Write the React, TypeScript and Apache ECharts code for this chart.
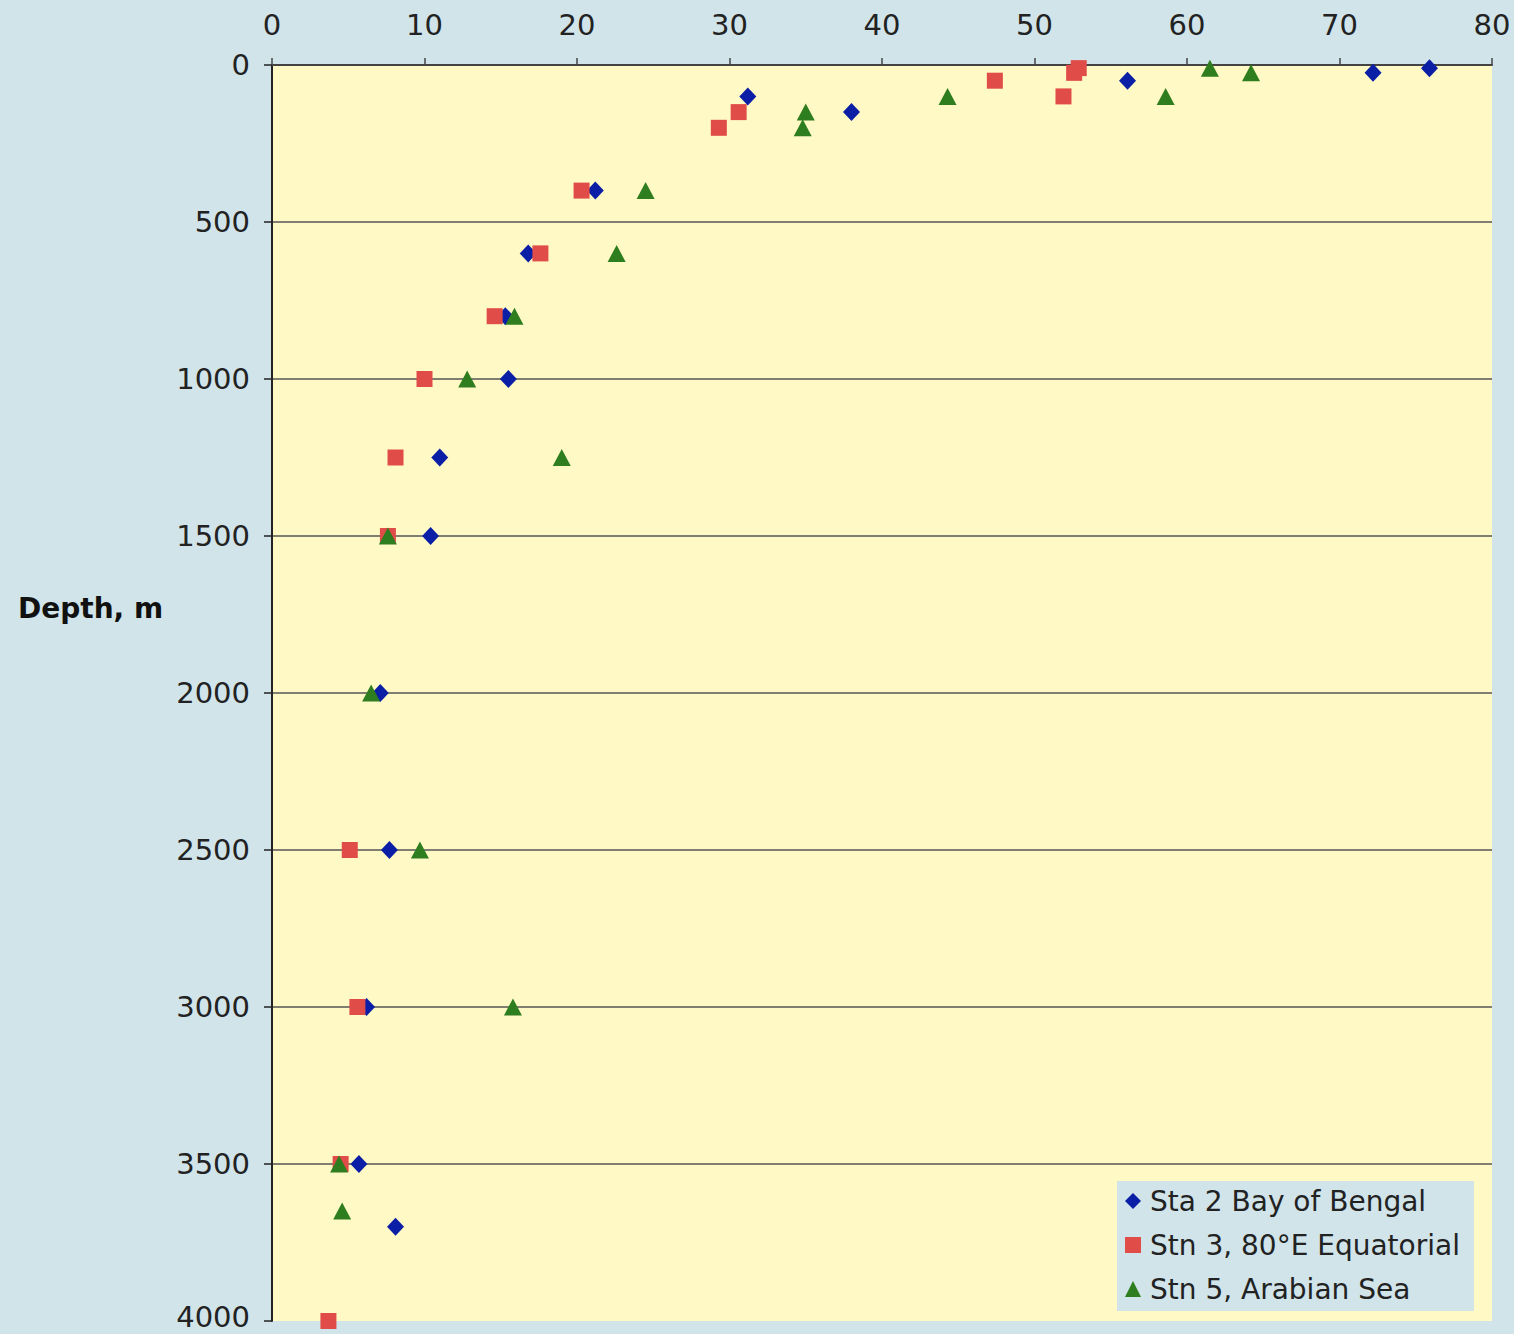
import React, { useEffect, useRef } from "react";
import * as echarts from "echarts";

const seriesNames = ["Sta 2 Bay of Bengal", "Stn 3, 80°E Equatorial", "Stn 5, Arabian Sea"];

// [value, depth m]
const bayOfBengal: [number, number][] = [
  [75.9, 10], [72.2, 25], [56.1, 50], [31.2, 100], [38.0, 150], [21.2, 400],
  [16.8, 600], [15.3, 800], [15.5, 1000], [11.0, 1250], [10.4, 1500],
  [7.1, 2000], [7.7, 2500], [6.2, 3000], [5.7, 3500], [8.1, 3700],
];
const equatorial80E: [number, number][] = [
  [52.9, 10], [52.6, 25], [47.4, 50], [51.9, 100], [30.6, 150], [29.3, 200],
  [20.3, 400], [17.6, 600], [14.6, 800], [10.0, 1000], [8.1, 1250], [7.6, 1500],
  [5.1, 2500], [5.6, 3000], [4.5, 3500], [3.7, 4000],
];
const arabianSea: [number, number][] = [
  [61.5, 10], [64.2, 25], [58.6, 100], [44.3, 100], [35.0, 150], [34.8, 200],
  [24.5, 400], [22.6, 600], [15.9, 800], [12.8, 1000], [19.0, 1250], [7.6, 1500],
  [6.5, 2000], [9.7, 2500], [15.8, 3000], [4.4, 3500], [4.6, 3650],
];

const xTicks = { min: 0, max: 80, interval: 10 };
const yTicks = { min: 0, max: 4000, interval: 500 };

const FONT = "DejaVu Sans";

export default function App() {
  const ref = useRef<HTMLDivElement>(null);
  useEffect(() => {
    if (!ref.current) return;
    const chart = echarts.init(ref.current, null, { renderer: "svg" });
    chart.setOption({
      animation: false,
      backgroundColor: "#d0e4ea",
      grid: {
        left: 272,
        right: 22,
        top: 65,
        bottom: 13,
        show: true,
        backgroundColor: "#fff9c6",
        borderWidth: 0,
      },
      xAxis: {
        type: "value",
        position: "top",
        min: xTicks.min,
        max: xTicks.max,
        interval: xTicks.interval,
        axisLine: { show: true, lineStyle: { color: "#444", width: 2 } },
        axisTick: { show: true, length: 7, lineStyle: { color: "#444", width: 1.5 } },
        axisLabel: { color: "#222", fontSize: 29, fontFamily: FONT, margin: 26 },
        splitLine: { show: false },
      },
      yAxis: {
        type: "value",
        inverse: true,
        min: yTicks.min,
        max: yTicks.max,
        interval: yTicks.interval,
        axisLine: { show: true, onZero: false, lineStyle: { color: "#222", width: 2 } },
        axisTick: { show: true, length: 8, lineStyle: { color: "#222", width: 1.5 } },
        axisLabel: {
          color: "#222",
          fontSize: 29,
          fontFamily: FONT,
          margin: 22,
          formatter: (v: number) => (v === yTicks.max ? "{last|" + String(v) + "}" : String(v)),
          rich: {
            last: { fontSize: 29, fontFamily: FONT, color: "#222", padding: [0, 0, 8, 0] },
          },
        },
        splitLine: { show: true, showMaxLine: false, lineStyle: { color: "#555", width: 1.5 } },
      },
      legend: {
        orient: "vertical",
        left: 1117,
        top: 1181,
        backgroundColor: "#d0e4ea",
        padding: [6, 14, 8, 8],
        itemGap: 16,
        itemWidth: 16,
        itemHeight: 16,
        textStyle: { color: "#222", fontSize: 28, fontFamily: FONT, padding: [0, 0, 0, 4] },
        data: seriesNames,
      },
      graphic: [
        {
          type: "text",
          left: 18,
          top: 594,
          style: {
            text: "Depth, m",
            fontFamily: FONT,
            fontWeight: "bold",
            fontSize: 28,
            fill: "#111",
          },
        },
      ],
      series: [
        {
          name: seriesNames[0],
          type: "scatter",
          symbol: "diamond",
          symbolSize: [17, 18],
          clip: false,
          itemStyle: { color: "#0b1fa6", opacity: 1 },
          data: bayOfBengal,
        },
        {
          name: seriesNames[1],
          type: "scatter",
          symbol: "rect",
          symbolSize: 16,
          clip: false,
          itemStyle: { color: "#e04c47", opacity: 1 },
          data: equatorial80E,
        },
        {
          name: seriesNames[2],
          type: "scatter",
          symbol: "triangle",
          symbolSize: [18, 17],
          clip: false,
          itemStyle: { color: "#2e7d1e", opacity: 1 },
          data: arabianSea,
        },
      ],
    });
    return () => chart.dispose();
  }, []);
  return (
    <div
      ref={ref}
      style={{ position: "absolute", left: 0, top: 0, width: 1514, height: 1334 }}
    />
  );
}
